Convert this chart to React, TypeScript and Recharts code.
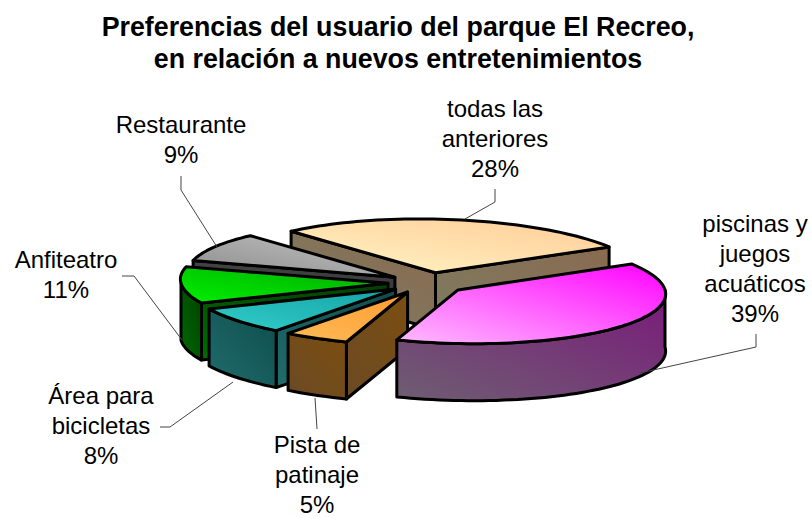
import { PieChart, Pie, Cell } from 'recharts';

const CATEGORIES = ['todas las anteriores', 'Restaurante', 'Anfiteatro', 'Área para bicicletas', 'Pista de patinaje', 'piscinas y juegos acuáticos'];
const VALUES = [28, 9, 11, 8, 5, 39];
const LABEL_LINES = [
  ['todas las', 'anteriores'],
  ['Restaurante'],
  ['Anfiteatro'],
  ['Área para', 'bicicletas'],
  ['Pista de', 'patinaje'],
  ['piscinas y', 'juegos', 'acuáticos'],
];
const TITLE_LINES = ['Preferencias del usuario del parque El Recreo,', 'en relación a nuevos entretenimientos'];

const TOP_COLORS = [
  ['#fff6c6', '#ffcb96'],
  ['#8c8c8c', '#c4c4c4'],
  ['#00f000', '#00a800'],
  ['#33cccc', '#14a4a4'],
  ['#ffbb55', '#ff9c33'],
  ['#ffbcff', '#ff00ff'],
];
const WALL_COLORS = [
  ['#7d7d62', '#896a50'],
  ['#4a4a4a', '#3a3a3a'],
  ['#006a00', '#004000'],
  ['#206c6c', '#0f4d4d'],
  ['#6b4a24', '#7c4e10'],
  ['#6e5e72', '#7a1a7a'],
];

// label anchor (centre x, first baseline) and leader line, same order as CATEGORIES
const LABEL_POS = [[495, 117], [181, 133], [66, 268], [101, 404], [317, 453], [755, 232]];
const LEADERS = [
  '495,189 495,202 465,219',
  '181,176 181,190 217,247',
  '122,276 134,276 182,340',
  '160,427 170,427 233,382',
  '317,429 315,398',
  '756,334 756,347 640,373',
];

const CX = 428;
const CY = 283;
const RADIUS = 207;
const TILT = 0.26;
const SHEAR = 0.3; // the original's view is slightly skewed, front leans to the right
const EXPLODE = 40;
const DEPTH = 57;
const FONT = '"Liberation Sans", Arial, sans-serif';

const rad = (d: number) => (d * Math.PI) / 180;

function Slice3D(props: any) {
  const i = CATEGORIES.indexOf(props.payload?.name ?? props.name);
  const a0 = Math.min(props.startAngle, props.endAngle);
  const a1 = Math.max(props.startAngle, props.endAngle);
  const mid = (a0 + a1) / 2;
  const ox = props.cx + EXPLODE * Math.cos(rad(mid));
  const oy = props.cy - EXPLODE * TILT * Math.sin(rad(mid));
  const r = props.outerRadius;
  const pt = (a: number, dy = 0): [number, number] => [
    ox + r * Math.cos(rad(a)) - SHEAR * r * TILT * Math.sin(rad(a)),
    oy - r * TILT * Math.sin(rad(a)) + dy,
  ];
  const toS = (p: [number, number]) => `${p[0].toFixed(1)},${p[1].toFixed(1)}`;
  const arc = (from: number, to: number, dy = 0) => {
    const out: string[] = [];
    const n = Math.max(2, Math.ceil(Math.abs(to - from) / 2));
    for (let k = 0; k <= n; k++) out.push(toS(pt(from + ((to - from) * k) / n, dy)));
    return out;
  };

  // front part of the rim, sin < 0
  const frontFrom = Math.max(a0, 180);
  const frontTo = Math.min(a1, 360);
  const walls: string[] = [];
  if (frontTo > frontFrom) {
    walls.push([...arc(frontFrom, frontTo), ...arc(frontTo, frontFrom, DEPTH)].join(' '));
  }
  const apex = toS([ox, oy]);
  const apexLow = toS([ox, oy + DEPTH]);
  const radial: string[] = [];
  if (Math.cos(rad(a0)) > 0) radial.push([apex, toS(pt(a0)), toS(pt(a0, DEPTH)), apexLow].join(' '));
  if (Math.cos(rad(a1)) < 0) radial.push([apex, toS(pt(a1)), toS(pt(a1, DEPTH)), apexLow].join(' '));

  const top = [apex, ...arc(a0, a1)].join(' ');
  return (
    <g>
      <defs>
        <linearGradient id={`top-${i}`} x1="0" y1="1" x2="1" y2="0">
          <stop offset="0%" stopColor={TOP_COLORS[i][0]} />
          <stop offset="100%" stopColor={TOP_COLORS[i][1]} />
        </linearGradient>
        <linearGradient id={`wall-${i}`} x1="0" y1="1" x2="1" y2="0">
          <stop offset="0%" stopColor={WALL_COLORS[i][0]} />
          <stop offset="100%" stopColor={WALL_COLORS[i][1]} />
        </linearGradient>
      </defs>
      {radial.map((p, k) => (
        <polygon key={`r${k}`} points={p} fill={`url(#wall-${i})`} stroke="#000" strokeWidth={3} strokeLinejoin="round" />
      ))}
      {walls.map((p, k) => (
        <polygon key={`w${k}`} points={p} fill={`url(#wall-${i})`} stroke="#000" strokeWidth={3} strokeLinejoin="round" />
      ))}
      <polygon points={top} fill={`url(#top-${i})`} stroke="#000" strokeWidth={3} strokeLinejoin="round" />
    </g>
  );
}

function renderLabel(props: any) {
  const i = CATEGORIES.indexOf(props.payload?.name ?? props.name);
  const [x, y] = LABEL_POS[i];
  const lines = [...LABEL_LINES[i], `${props.payload?.value ?? props.value}%`];
  return (
    <g key={`label-${i}`}>
      <polyline points={LEADERS[i]} fill="none" stroke="#444" strokeWidth={1} />
      <text x={x} y={y} textAnchor="middle" fontFamily={FONT} fontSize={24} fill="#000">
        {lines.map((t, k) => (
          <tspan key={k} x={x} dy={k === 0 ? 0 : 30}>
            {t}
          </tspan>
        ))}
      </text>
    </g>
  );
}

const data = CATEGORIES.map((name, i) => ({ name, value: VALUES[i] }));

export default function App() {
  return (
    <div style={{ position: 'absolute', left: 0, top: 0, width: 812, height: 518, background: '#fff' }}>
      <PieChart width={812} height={518} margin={{ top: 0, right: 0, bottom: 0, left: 0 }}>
        <text x={398} y={36} textAnchor="middle" fontFamily={FONT} fontWeight="bold" fontSize={26.8} fill="#000">
          {TITLE_LINES[0]}
        </text>
        <text x={398} y={68} textAnchor="middle" fontFamily={FONT} fontWeight="bold" fontSize={26.8} fill="#000">
          {TITLE_LINES[1]}
        </text>
        <Pie
          data={data}
          dataKey="value"
          nameKey="name"
          cx={CX}
          cy={CY}
          innerRadius={0}
          outerRadius={RADIUS}
          startAngle={28.8}
          endAngle={388.8}
          paddingAngle={0}
          stroke="none"
          shape={Slice3D}
          label={renderLabel}
          labelLine={false}
          isAnimationActive={false}
        >
          {data.map((d, i) => (
            <Cell key={d.name} fill={TOP_COLORS[i][1]} />
          ))}
        </Pie>
      </PieChart>
    </div>
  );
}
